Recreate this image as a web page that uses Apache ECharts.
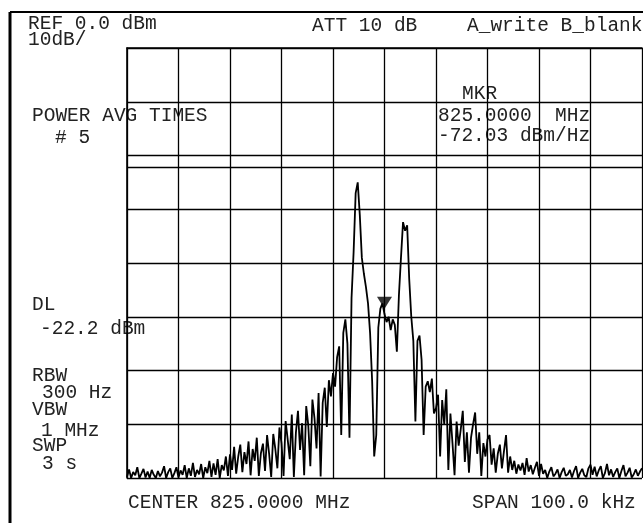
<!DOCTYPE html>
<html>
<head>
<meta charset="utf-8">
<script src="https://cdn.jsdelivr.net/npm/echarts@6/dist/echarts.min.js"></script>
<style>
  html, body { margin: 0; padding: 0; background: #fff; }
  #chart { width: 643px; height: 523px; }
</style>
</head>
<body>
<div id="chart"></div>
<script>
// trace, 251 sweep points, dBm (ref 0, 10 dB/div)
const traceDbm = [
  -79.8, -78.4, -80, -78.9, -79.5, -78, -80, -79.2, -78.3, -79.9,
  -78.8, -80, -78.5, -79.4, -80, -78.7, -79.7, -79, -77.8, -80,
  -78.9, -78.2, -80, -79.1, -78,
  -79.9, -78.6, -79.4, -77.6, -80, -78.2, -79.6, -77.2, -79.8, -78.5,
  -79.3, -77.4, -80, -78, -79.1, -76.8, -79.8, -77.3, -79.4, -76.5,
  -80, -77.6, -78.6, -76, -79.6,
  -75.6, -78.5, -74.2, -79.2, -76, -73.8, -78.9, -75.2, -77.4, -73.2,
  -79.5, -74.6, -76.8, -72.5, -79.6, -75.4, -73.6, -78.7, -72, -75.5,
  -79.8, -71.8, -74.6, -78.2, -70.6,
  -73.5, -79.6, -69.4, -72.8, -76.5, -68.2, -79.8, -71.5, -67.5, -74.8,
  -69.8, -79.5, -66.6, -70.2, -77.8, -65.4, -68.8, -74.5, -64.2, -79.7,
  -66, -63.2, -70.5, -61.8, -64.8,
  -60.5, -63, -57.5, -55.5, -72, -53, -50.5, -55, -72.5, -46.5,
  -38, -27, -25, -31, -39, -42, -44.5, -47.5, -53, -62,
  -76, -72, -52, -48.5, -47.5,
  -49.5, -51, -50, -52.5, -50.5, -51.5, -56.5, -46, -39, -32.4,
  -34, -33, -43, -50, -54.5, -69.5, -54.5, -53.5, -58, -72,
  -63, -62, -64, -61.5, -68,
  -67, -64.5, -76, -65.5, -70, -63.5, -78.5, -68, -73.5, -79.5,
  -69.5, -74, -71, -67.5, -77, -71.5, -79, -72.5, -70, -67.8,
  -75.5, -71.5, -79.6, -73.5, -76,
  -72.8, -72, -77.5, -74.5, -79, -75.5, -73.8, -78.2, -75, -72,
  -79, -76, -78.5, -76.8, -79.2, -77.5, -78.6, -77.2, -79.4, -76.3,
  -78.8, -77.6, -79.3, -78.1, -77,
  -79.6, -77.4, -79.2, -78.5, -80, -78.8, -78, -79.7, -79.2, -78.4,
  -80, -78.9, -78.1, -79.6, -79.3, -78.5, -79.9, -78.7, -77.8, -80,
  -79, -78.3, -79.5, -79.8, -78.2, -77.5, -79.4, -77.9, -79.7, -78.6,
  -77.8, -80, -79.1, -77.4, -79.5, -78.4, -79.8, -78.9, -78.2, -80,
  -78.7, -77.6, -79.7, -79, -78.1, -79.9, -79.3, -78.4, -79.6, -78.8, -78.2
];

const markerPoint = [125, -47.4];
const displayLineDbm = -22.2;

const screenText = [
  ["REF 0.0 dBm", 28, 24],
  ["ATT 10 dB", 312, 26],
  ["A_write B_blank", 467, 26],
  ["10dB/", 28, 40],
  ["MKR", 462, 94],
  ["825.0000  MHz", 438, 116],
  ["-72.03 dBm/Hz", 438, 136],
  ["POWER AVG TIMES", 32, 116],
  ["# 5", 55, 138],
  ["DL", 32, 305],
  ["-22.2 dBm", 40, 329],
  ["RBW", 32, 376],
  ["300 Hz", 42, 393],
  ["VBW", 32, 410],
  ["1 MHz", 41, 431],
  ["SWP", 32, 446],
  ["3 s", 42, 464],
  ["CENTER 825.0000 MHz", 128, 503],
  ["SPAN 100.0 kHz", 472, 503]
];

const chart = echarts.init(document.getElementById("chart"));

const gridAxis = {
  axisLabel: { show: false },
  axisTick: { show: false },
  axisLine: { show: true, lineStyle: { color: "#000", width: 1.6 } },
  splitLine: { show: true, lineStyle: { color: "#000", width: 1.3 } },
};

chart.setOption({
  animation: false,
  backgroundColor: "#fff",
  grid: { left: 127, right: 1, top: 48, bottom: 45 },
  xAxis: { type: "value", min: 0, max: 250, interval: 25, ...gridAxis },
  yAxis: { type: "value", min: -80, max: 0, interval: 10, ...gridAxis },
  series: [
    {
      type: "line",
      data: traceDbm.map((v, i) => [i, v]),
      symbol: "none",
      lineStyle: { color: "#000", width: 1.8 },
      markLine: {
        silent: true,
        symbol: "none",
        label: { show: false },
        lineStyle: { color: "#000", type: "solid", width: 1.3 },
        data: [{ yAxis: displayLineDbm }],
      },
    },
    {
      type: "scatter",
      data: [markerPoint],
      symbol: "triangle",
      symbolRotate: 180,
      symbolSize: [15, 12],
      itemStyle: { color: "#000" },
    },
  ],
  graphic: [
    { type: "line", shape: { x1: 10, y1: 12, x2: 643, y2: 12 }, style: { stroke: "#000", lineWidth: 2 } },
    { type: "line", shape: { x1: 10, y1: 12, x2: 10, y2: 523 }, style: { stroke: "#000", lineWidth: 3 } },
    ...screenText.map(([t, x, y]) => ({
      type: "text",
      x: x,
      y: y,
      style: {
        text: t,
        fill: "#222",
        font: '19.5px "Liberation Mono", monospace',
        textVerticalAlign: "middle",
      },
    })),
  ],
});
</script>
</body>
</html>
